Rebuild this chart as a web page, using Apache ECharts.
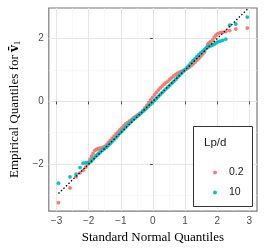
<!DOCTYPE html>
<html><head><meta charset="utf-8">
<script src="https://cdn.jsdelivr.net/npm/echarts@6/dist/echarts.min.js"></script>
<style>html,body{margin:0;padding:0;background:#fff}#c{width:265px;height:249px}</style>
</head><body><div id="c"></div>
<script>
// theoretical (standard normal) quantiles
const theoQ = [
 -2.94,-2.58,-2.39,-2.27,-2.17,-2.09,-2.02,-1.96,-1.91,-1.86,
 -1.81,-1.77,-1.73,-1.70,-1.66,-1.63,-1.57,-1.51,-1.45,-1.39,
 -1.33,-1.27,-1.21,-1.15,-1.09,-1.03,-0.97,-0.91,-0.85,-0.79,
 -0.73,-0.67,-0.61,-0.55,-0.49,-0.43,-0.37,-0.31,-0.25,-0.19,
 -0.13,-0.07,-0.01,0.05,0.11,0.17,0.23,0.29,0.35,0.41,
 0.47,0.53,0.59,0.65,0.71,0.77,0.83,0.89,0.95,1.01,
 1.07,1.13,1.19,1.25,1.31,1.37,1.43,1.49,1.55,1.61,
 1.66,1.70,1.73,1.77,1.81,1.86,1.91,1.96,2.02,2.09,
 2.17,2.27,2.39,2.58,2.94];
// empirical quantiles, Lp/d = 0.2
const redQ = [
 -3.23,-2.76,-2.40,-2.28,-2.20,-2.10,-2.00,-1.85,-1.75,-1.66,
 -1.57,-1.54,-1.52,-1.51,-1.50,-1.49,-1.47,-1.44,-1.39,-1.32,
 -1.25,-1.18,-1.11,-1.04,-0.98,-0.91,-0.85,-0.78,-0.72,-0.68,
 -0.63,-0.58,-0.53,-0.49,-0.44,-0.40,-0.35,-0.29,-0.21,-0.13,
 -0.04,0.05,0.13,0.21,0.29,0.36,0.43,0.49,0.55,0.60,
 0.65,0.71,0.76,0.81,0.86,0.90,0.93,0.96,0.99,1.02,
 1.05,1.09,1.14,1.19,1.25,1.31,1.37,1.44,1.51,1.58,
 1.70,1.80,1.85,1.88,1.91,1.96,2.04,2.11,2.16,2.19,
 2.21,2.23,2.26,2.31,2.34];
// empirical quantiles, Lp/d = 10
const cyanQ = [
 -2.61,-2.41,-2.32,-2.11,-1.97,-1.96,-1.95,-1.94,-1.90,-1.84,
 -1.78,-1.74,-1.70,-1.67,-1.64,-1.61,-1.56,-1.51,-1.46,-1.41,
 -1.35,-1.29,-1.22,-1.16,-1.09,-1.02,-0.96,-0.89,-0.83,-0.76,
 -0.70,-0.64,-0.58,-0.53,-0.48,-0.43,-0.38,-0.32,-0.27,-0.21,
 -0.15,-0.09,-0.03,0.03,0.10,0.16,0.22,0.28,0.34,0.40,
 0.46,0.52,0.58,0.64,0.70,0.77,0.83,0.90,0.96,1.02,
 1.09,1.16,1.23,1.30,1.36,1.43,1.49,1.55,1.60,1.65,
 1.70,1.73,1.75,1.77,1.78,1.80,1.83,1.86,1.90,1.92,
 1.95,1.99,2.43,2.47,2.69];
const refLineX = [-2.94, 2.94];
const refLineY = [-2.94, 2.94];
const seriesNames = ['0.2', '10'];
const xTicks = [-3,-2,-1,0,1,2,3];
const xMinor = [-2.5,-1.5,-0.5,0.5,1.5,2.5];
const yTicks = [-2,0,2];
const yMinor = [-3,-1,1];

const chart = echarts.init(document.getElementById('c'), null, {renderer:'canvas'});
const lab = {color:'#4d4d4d', fontSize:10, fontFamily:'Liberation Sans, Arial, sans-serif'};
const fmt = v => (v < 0 ? '\u2212' + Math.abs(v) : String(v));
const xr = [-3.24, 3.24], yr = [-3.5, 2.98];
chart.setOption({
  animation:false,
  grid:{left:40, right:8, top:8, bottom:36, show:true, borderColor:'#7a7a7a', borderWidth:1.2, backgroundColor:'#fff'},
  xAxis:[{
    type:'value', min:xr[0], max:xr[1],
    name:'Standard Normal Quantiles', nameLocation:'middle', nameGap:18,
    nameTextStyle:{fontFamily:'Liberation Serif, Times New Roman, serif', fontSize:13, color:'#000'},
    axisLine:{show:false},
    axisTick:{show:true, length:3, lineStyle:{color:'#4d4d4d'}, customValues:xTicks},
    axisLabel:Object.assign({margin:5, customValues:xTicks, formatter:fmt}, lab),
    splitLine:{show:true, lineStyle:{color:'#e6e6e6', width:1}}
  },{
    type:'value', min:xr[0], max:xr[1], position:'bottom',
    axisLine:{show:false}, axisLabel:{show:false},
    axisTick:{show:false, customValues:xMinor},
    splitLine:{show:true, lineStyle:{color:'#f3f3f3', width:0.6}}
  }],
  yAxis:[{
    type:'value', min:yr[0], max:yr[1],
    name:'Empirical Quantiles for {b|v\u0304}{s|1}', nameLocation:'middle', nameGap:23,
    nameTextStyle:{fontFamily:'Liberation Serif, Times New Roman, serif', fontSize:13, color:'#000',
      rich:{b:{fontFamily:'DejaVu Serif, serif', fontWeight:'bold', fontSize:12, color:'#000'},
            s:{fontFamily:'Liberation Serif, serif', fontSize:8, color:'#000', padding:[6,0,0,0]}}},
    axisLine:{show:false},
    axisTick:{show:true, length:3, lineStyle:{color:'#4d4d4d'}, customValues:yTicks},
    axisLabel:Object.assign({margin:5, customValues:yTicks, formatter:fmt}, lab),
    splitLine:{show:true, lineStyle:{color:'#e6e6e6', width:1}}
  },{
    type:'value', min:yr[0], max:yr[1], position:'left',
    axisLine:{show:false}, axisLabel:{show:false},
    axisTick:{show:false, customValues:yMinor},
    splitLine:{show:true, lineStyle:{color:'#f3f3f3', width:0.6}}
  }],
  legend:{
    orient:'vertical', left:208, top:162, itemGap:9, itemWidth:14, itemHeight:4,
    icon:'circle', data:seriesNames, z:20,
    textStyle:{fontSize:10.5, color:'#1a1a1a', fontFamily:'Liberation Sans, Arial, sans-serif', padding:[0,0,0,2]}
  },
  graphic:[
    {type:'rect', shape:{x:193.5, y:126.5, width:59, height:80}, style:{fill:'#fff', stroke:'#333', lineWidth:1}, z:10, silent:true},
    {type:'text', left:204, top:137, z:21, style:{text:'Lp/d', fontSize:11.5, fill:'#1a1a1a', fontFamily:'Liberation Sans, Arial, sans-serif'}}
  ],
  series:[
    {name:seriesNames[0], type:'scatter', symbolSize:3.8, itemStyle:{color:'#F8766D', opacity:0.95},
     data:theoQ.map((x,i)=>[x, redQ[i]]), z:2},
    {name:seriesNames[1], type:'scatter', symbolSize:3.8, itemStyle:{color:'#00BFC4', opacity:0.95},
     data:theoQ.map((x,i)=>[x, cyanQ[i]]), z:3},
    {type:'line', data:refLineX.map((x,i)=>[x, refLineY[i]]), symbol:'none', silent:true,
     lineStyle:{color:'#000', width:1.3, type:[1.5,2]}, z:4}
  ]
});
</script></body></html>
